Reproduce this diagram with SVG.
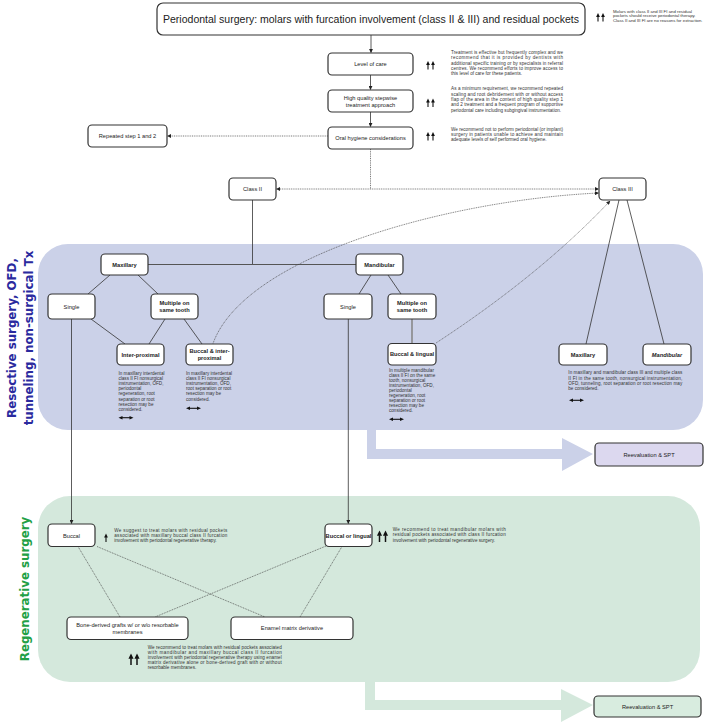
<svg xmlns="http://www.w3.org/2000/svg" xmlns:xlink="http://www.w3.org/1999/xlink" width="709" height="724" viewBox="0 0 709 724">
<style>
.box{fill:#fff;stroke:#333;stroke-width:1.2}
.lbl{font-family:"Liberation Sans",Arial,sans-serif;font-size:5.7px;fill:#222;text-anchor:middle}
.b{font-weight:bold}
.sm{font-family:"Liberation Sans",Arial,sans-serif;font-size:4.6px;fill:#333}
.ln{stroke:#333;stroke-width:0.8;fill:none}
.dt{stroke:#444;stroke-width:0.7;stroke-dasharray:1 0.8;fill:none}
.side{font-family:"DejaVu Sans",Verdana,sans-serif;font-size:11.8px;font-weight:bold;text-anchor:middle}
</style>
<defs>
<marker id="ah" viewBox="0 0 10 10" refX="9" refY="5" markerWidth="4" markerHeight="4" markerUnits="userSpaceOnUse" orient="auto-start-reverse"><path d="M0,0 L10,5 L0,10 z" fill="#222"/></marker>
<g id="up"><path d="M0,0 V-5" stroke="#111" stroke-width="1.1"/><path d="M-1.9,-4.6 L0,-8.5 L1.9,-4.6 Z" fill="#111"/></g>
<g id="dbl"><path d="M3,0 H12" stroke="#111" stroke-width="1.1"/><path d="M0,0 L4,-1.8 L4,1.8 Z M15,0 L11,-1.8 L11,1.8 Z" fill="#111"/></g>
</defs>
<rect width="709" height="724" fill="#fff"/>

<g id="regions">
<rect x="38" y="244" width="665" height="186" rx="30" fill="#cbd1e8"/>
<path d="M367,429 H376 V449 H562 V438 L593,454 L562,471 V459 H367 Z" fill="#cbd1e8"/>
<rect x="38" y="496" width="662" height="186" rx="32" fill="#d4e8dc"/>
<path d="M365,681 H375 V700 H561 V689 L593,705 L561,722 V710 H365 Z" fill="#d4e8dc"/>
<text class="side" fill="#2a2a9e" transform="translate(16,338) rotate(-90)">Resective surgery, OFD,</text>
<text class="side" fill="#2a2a9e" transform="translate(33,338) rotate(-90)">tunneling, non-surgical Tx</text>
<text class="side" fill="#22a045" transform="translate(29,589) rotate(-90)">Regenerative surgery</text>
</g>

<g id="connectors">
<path class="ln" d="M371,35 V52.5" marker-end="url(#ah)"/>
<path class="ln" d="M370.5,75 V89.5" marker-end="url(#ah)"/>
<path class="ln" d="M370.5,112 V126.5" marker-end="url(#ah)"/>
<path class="dt" d="M328,136 H167.5" marker-end="url(#ah)"/>
<path class="dt" d="M370.5,149 V189"/>
<path class="dt" d="M276.5,189 H598.5" marker-start="url(#ah)" marker-end="url(#ah)"/>
<path class="ln" d="M252.5,200 V264.5"/>
<path stroke="#555" stroke-width="1" fill="none" d="M148,264.5 H356"/>
<path class="ln" d="M110,275 L88,294 M138,275 L158,294 M91,319 L125,344 M165,319 L149,344 M184,319 L202,344"/>
<path class="ln" d="M371,275 L359,294 M388,275 L401,294"/>
<path stroke="#888" stroke-width="1.6" fill="none" d="M412,319 V343.5"/>
<path class="ln" d="M619,200 L586,344 M627,200 L664,344"/>
<path class="dt" d="M213,343.5 C245,255 450,200 598.5,193" marker-end="url(#ah)"/>
<path class="dt" d="M436,343 Q540,275 610,201" marker-end="url(#ah)"/>
<path class="ln" d="M71.5,319 V523.5" marker-end="url(#ah)"/>
<path class="ln" d="M348.3,319 V523.5" marker-end="url(#ah)"/>
<path class="dt" d="M78,546.5 L120,617 M97,546.5 L265,617 M326,546 L155,617 M342,546.5 L300,617"/>
</g>

<g id="title"><rect class="box" x="157" y="3" width="428" height="32" rx="6"/>
<text class="lbl" x="371" y="23" style="font-size:11.5px" textLength="416" lengthAdjust="spacingAndGlyphs">Periodontal surgery: molars with furcation involvement (class II &amp; III) and residual pockets</text></g>
<g id="title-note">
<use href="#up" x="598" y="21.5"/><use href="#up" x="603" y="21.5"/>
<text class="sm" style="font-size:4.3px" x="613" y="12.6">Molars with class II and III FI and residual</text>
<text class="sm" style="font-size:4.3px" x="613" y="17.3">pockets should receive periodontal therapy.</text>
<text class="sm" style="font-size:4.3px" x="613" y="22">Class II and III FI are no reasons for extraction.</text>
</g>

<g id="level"><rect class="box" x="328" y="53" width="85" height="22" rx="4"/><text class="lbl" x="370.5" y="66">Level of care</text></g>
<g id="level-note">
<use href="#up" x="428" y="69.5"/><use href="#up" x="433" y="69.5"/>
<text class="sm" x="451" y="54" textLength="112" lengthAdjust="spacing">Treatment is effective but frequently complex and we</text>
<text class="sm" x="451" y="59.3" textLength="112" lengthAdjust="spacing">recommend that it is provided by dentists with</text>
<text class="sm" x="451" y="64.6" textLength="112" lengthAdjust="spacing">additional specific training or by specialists in referral</text>
<text class="sm" x="451" y="70" textLength="112" lengthAdjust="spacing">centres. We recommend efforts to improve access to</text>
<text class="sm" x="451" y="75.3">this level of care for these patients.</text>
</g>

<g id="hq"><rect class="box" x="328" y="90" width="85" height="22" rx="4"/><text class="lbl" x="370.5" y="99.7">High quality stepwise</text><text class="lbl" x="370.5" y="107">treatment approach</text></g>
<g id="hq-note">
<use href="#up" x="428" y="107"/><use href="#up" x="433" y="107"/>
<text class="sm" x="451" y="90" textLength="112" lengthAdjust="spacing">As a minimum requirement, we recommend repeated</text>
<text class="sm" x="451" y="95.5" textLength="112" lengthAdjust="spacing">scaling and root debridement with or without access</text>
<text class="sm" x="451" y="101" textLength="112" lengthAdjust="spacing">flap of the area in the context of high quality step 1</text>
<text class="sm" x="451" y="106.3" textLength="112" lengthAdjust="spacing">and 2 treatment and a frequent program of supportive</text>
<text class="sm" x="451" y="111.8" textLength="110" lengthAdjust="spacingAndGlyphs">periodontal care including subgingival instrumentation.</text>
</g>

<g id="oral"><rect class="box" x="328" y="127" width="85" height="22" rx="4"/><text class="lbl" x="370.5" y="140">Oral hygiene considerations</text></g>
<g id="oral-note">
<use href="#up" x="428" y="140.5"/><use href="#up" x="433" y="140.5"/>
<text class="sm" x="451" y="131" textLength="112" lengthAdjust="spacing">We recommend not to perform periodontal (or implant)</text>
<text class="sm" x="451" y="136" textLength="112" lengthAdjust="spacing">surgery in patients unable to achieve and maintain</text>
<text class="sm" x="451" y="141">adequate levels of self performed oral hygiene.</text>
</g>

<g id="repeat"><rect class="box" x="88" y="125" width="79" height="22" rx="4"/><text class="lbl" x="127.5" y="138">Repeated step 1 and 2</text></g>
<g id="class2"><rect class="box" x="229" y="178" width="47" height="22" rx="4"/><text class="lbl" x="252.5" y="191">Class II</text></g>
<g id="class3"><rect class="box" x="599" y="178" width="47" height="22" rx="4"/><text class="lbl" x="622.5" y="191">Class III</text></g>

<g id="maxillary"><rect class="box" x="101" y="254" width="47" height="21" rx="4"/><text class="lbl b" x="124.5" y="266.5">Maxillary</text></g>
<g id="mandibular"><rect class="box" x="356" y="254" width="47" height="21" rx="4"/><text class="lbl b" x="379.5" y="266.5">Mandibular</text></g>
<g id="single-max"><rect class="box" x="48" y="294" width="47" height="25" rx="4"/><text class="lbl" x="71.5" y="308.5">Single</text></g>
<g id="multiple-max"><rect class="box" x="151" y="294" width="47" height="25" rx="4"/><text class="lbl b" x="174.5" y="305.3">Multiple on</text><text class="lbl b" x="174.5" y="312">same tooth</text></g>
<g id="interprox"><rect class="box" x="117" y="344" width="47" height="21" rx="4"/><text class="lbl b" x="140.5" y="356.5">Inter-proximal</text>
<text class="sm" x="118.5" y="375">In maxillary interdental</text>
<text class="sm" x="118.5" y="380.1">class II FI nonsurgical</text>
<text class="sm" x="118.5" y="385.2">instrumentation, OFD,</text>
<text class="sm" x="118.5" y="390.3">periodontal</text>
<text class="sm" x="118.5" y="395.4">regeneration, root</text>
<text class="sm" x="118.5" y="400.5">separation or root</text>
<text class="sm" x="118.5" y="405.6">resection may be</text>
<text class="sm" x="118.5" y="410.7">considered.</text>
<use href="#dbl" x="118.5" y="417.7"/></g>
<g id="buccal-interprox"><rect class="box" x="186" y="344" width="47" height="21" rx="4"/><text class="lbl b" x="209.5" y="353">Buccal &amp; inter-</text><text class="lbl b" x="209.5" y="359.7">proximal</text>
<text class="sm" x="186" y="375">In maxillary interdental</text>
<text class="sm" x="186" y="380.1">class II FI nonsurgical</text>
<text class="sm" x="186" y="385.2">instrumentation, OFD,</text>
<text class="sm" x="186" y="390.3">root separation or root</text>
<text class="sm" x="186" y="395.4">resection may be</text>
<text class="sm" x="186" y="400.5">considered.</text>
<use href="#dbl" x="186" y="408.3"/></g>
<g id="single-mand"><rect class="box" x="324" y="294" width="48" height="25" rx="4"/><text class="lbl" x="348" y="308.5">Single</text></g>
<g id="multiple-mand"><rect class="box" x="388" y="294" width="48" height="25" rx="4"/><text class="lbl b" x="412" y="305.3">Multiple on</text><text class="lbl b" x="412" y="312">same tooth</text></g>
<g id="buccal-lingual"><rect class="box" x="388" y="343.5" width="48" height="21.5" rx="4"/><text class="lbl b" x="412" y="356.3">Buccal &amp; lingual</text>
<text class="sm" x="389" y="372.3">In multiple mandibular</text>
<text class="sm" x="389" y="377.3">class II FI on the same</text>
<text class="sm" x="389" y="382.3">tooth, nonsurgical</text>
<text class="sm" x="389" y="387.3">instrumentation, OFD,</text>
<text class="sm" x="389" y="392.3">periodontal</text>
<text class="sm" x="389" y="397.3">regeneration, root</text>
<text class="sm" x="389" y="402.3">separation or root</text>
<text class="sm" x="389" y="407.3">resection may be</text>
<text class="sm" x="389" y="412.3">considered.</text>
<use href="#dbl" x="389" y="419.3"/></g>
<g id="max3"><rect class="box" x="559" y="344" width="48" height="21" rx="4"/><text class="lbl b" x="583" y="356.5">Maxillary</text></g>
<g id="mand3"><rect class="box" x="643" y="344" width="48" height="21" rx="4"/><text class="lbl b" x="667" y="356.5" font-style="italic">Mandibular</text></g>
<g id="class3-note">
<text class="sm" x="568.3" y="374.3" textLength="114" lengthAdjust="spacing">In maxillary and mandibular class III and multiple class</text>
<text class="sm" x="568.3" y="379.6" textLength="114" lengthAdjust="spacing">II FI in the same tooth, nonsurgical instrumentation,</text>
<text class="sm" x="568.3" y="385" textLength="114" lengthAdjust="spacing">OFD, tunneling, root separation or root resection may</text>
<text class="sm" x="568.3" y="390.3">be considered.</text>
<use href="#dbl" x="569" y="400.3"/></g>
<g id="reeval1"><rect class="box" x="595" y="443" width="108" height="23" rx="4" style="fill:#dcd8ef"/><text class="lbl" x="649" y="456.5">Reevaluation &amp; SPT</text></g>

<g id="buccal"><rect class="box" x="48" y="524" width="47" height="22.5" rx="4"/><text class="lbl" x="71.5" y="537.5">Buccal</text></g>
<g id="buccal-note">
<use href="#up" x="106" y="542"/>
<text class="sm" x="114.3" y="531.6" textLength="113" lengthAdjust="spacing">We suggest to treat molars with residual pockets</text>
<text class="sm" x="114.3" y="537" textLength="113" lengthAdjust="spacing">associated with maxillary buccal class II furcation</text>
<text class="sm" x="114.3" y="542.3">involvement with periodontal regenerative therapy.</text>
</g>
<g id="buccal-or-lingual"><rect class="box" x="325" y="524" width="47" height="22.5" rx="4"/><text class="lbl b" x="348.5" y="537.5">Buccal or lingual</text></g>
<g id="bol-note">
<use href="#up" transform="translate(379.5,542) scale(1.35)"/><use href="#up" transform="translate(385.5,542) scale(1.35)"/>
<text class="sm" x="392.7" y="530.6" textLength="113" lengthAdjust="spacing">We recommend to treat mandibular molars with</text>
<text class="sm" x="392.7" y="536.3" textLength="113" lengthAdjust="spacing">residual pockets associated with class II furcation</text>
<text class="sm" x="392.7" y="542">involvement with periodontal regenerative surgery.</text>
</g>
<g id="bone"><rect class="box" x="67" y="617" width="121" height="22.5" rx="4"/><text class="lbl" x="127.5" y="627">Bone-derived grafts w/ or w/o resorbable</text><text class="lbl" x="127.5" y="634.3">membranes</text></g>
<g id="enamel"><rect class="box" x="231" y="617" width="122" height="22.5" rx="4"/><text class="lbl" x="292" y="630">Enamel matrix derivative</text></g>
<g id="bottom-note">
<use href="#up" transform="translate(131,665) scale(1.35)"/><use href="#up" transform="translate(137,665) scale(1.35)"/>
<text class="sm" x="147.7" y="649.3" textLength="134" lengthAdjust="spacing">We recommend to treat molars with residual pockets associated</text>
<text class="sm" x="147.7" y="654.3" textLength="134" lengthAdjust="spacing">with mandibular and maxillary buccal class II furcation</text>
<text class="sm" x="147.7" y="659.3" textLength="134" lengthAdjust="spacing">involvement with periodontal regenerative therapy using enamel</text>
<text class="sm" x="147.7" y="664.3" textLength="134" lengthAdjust="spacing">matrix derivative alone or bone-derived graft with or without</text>
<text class="sm" x="147.7" y="669.3">resorbable membranes.</text>
</g>
<g id="reeval2"><rect class="box" x="594" y="696" width="107" height="21" rx="4" style="fill:#d8ecdf"/><text class="lbl" x="647.5" y="708.5">Reevaluation &amp; SPT</text></g>
</svg>
